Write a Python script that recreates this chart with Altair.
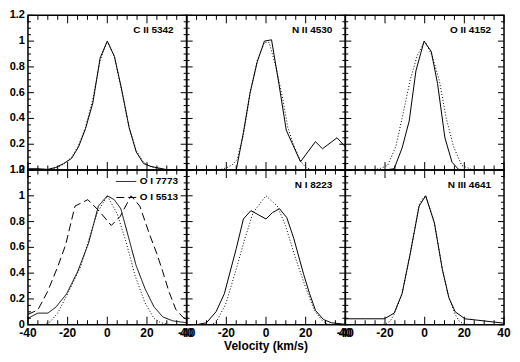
import altair as alt
import pandas as pd

# ---------------- data ----------------
LABELS = ["C II 5342", "N II 4530", "O II 4152", "O I 7773", "N I 8223", "N III 4641"]
OI_SERIES = ["O I 7773", "O I 5513"]
X_TITLE = "Velocity (km/s)"

# C II 5342
CII_V = [-40, -35, -30, -26, -22, -18, -14.5, -11, -7.3, -3.6, 0, 3.6, 7.3, 11, 14.6, 18.3, 22, 26, 30, 35, 40]
CII_F = [0.01, 0.01, 0.005, 0.02, 0.05, 0.09, 0.18, 0.32, 0.52, 0.87, 1.0, 0.88, 0.62, 0.33, 0.14, 0.05, 0.028, 0.015, 0.003, 0.0, 0.0]
CII_DV = [-30, -26, -22, -18, -14.5, -11, -7.3, -3.6, 0, 3.6, 7.3, 11, 14.6, 18.3, 22, 26, 30]
CII_DF = [0.0, 0.015, 0.045, 0.1, 0.19, 0.33, 0.55, 0.85, 1.0, 0.88, 0.61, 0.33, 0.15, 0.06, 0.025, 0.01, 0.0]

# N II 4530
NII_V = [-40, -30, -20, -15, -11.4, -8, -4.4, -0.8, 2.8, 6.5, 10.2, 17.4, 24.9, 28.5, 35.8, 40]
NII_F = [0.0, 0.0, 0.0, 0.0, 0.29, 0.6, 0.84, 1.0, 1.01, 0.67, 0.31, 0.064, 0.22, 0.165, 0.25, 0.18]
NII_DV = [-24, -20, -17, -14.6, -11.4, -8, -4.4, -0.8, 1.6, 5, 8.5, 11, 13.8, 17.4, 20, 23.6]
NII_DF = [0.0, 0.017, 0.04, 0.08, 0.27, 0.6, 0.85, 0.99, 0.99, 0.8, 0.55, 0.33, 0.2, 0.07, 0.02, 0.0]

# O II 4152
OII_V = [-40, -30, -20, -15.4, -11.4, -7.8, -4.4, -0.3, 3.3, 6.5, 10.2, 13.8, 17.1, 25, 40]
OII_F = [0.0, 0.0, 0.0, 0.01, 0.17, 0.38, 0.77, 1.0, 0.92, 0.67, 0.25, 0.06, 0.005, 0.0, 0.0]
OII_DV = [-27, -22.8, -18.7, -14.6, -11.4, -7.3, -3.7, 0, 3.7, 7.3, 10.9, 14.6, 18.7, 23.6, 27]
OII_DF = [0.0, 0.01, 0.035, 0.18, 0.40, 0.70, 0.89, 1.0, 0.89, 0.70, 0.40, 0.18, 0.035, 0.005, 0.0]

# O I 7773 (solid) and O I 5513 (dashed)
OI7_V = [-40, -35, -30, -26, -20.5, -15, -9.5, -4.5, 0, 3.5, 6.8, 10.5, 14.5, 19, 23.5, 28, 33, 40]
OI7_F = [0.05, 0.09, 0.09, 0.135, 0.24, 0.41, 0.63, 0.92, 1.0, 0.97, 0.9, 0.69, 0.46, 0.28, 0.14, 0.06, 0.03, 0.015]
OI5_V = [-40, -35, -30, -25, -21, -16.3, -9.8, -4, 2, 6.5, 12, 16.4, 21.3, 25, 28, 31, 34.5, 38, 40]
OI5_F = [0.08, 0.115, 0.26, 0.45, 0.62, 0.92, 0.97, 0.88, 0.77, 0.84, 1.0, 0.92, 0.70, 0.55, 0.41, 0.26, 0.12, 0.06, 0.04]
OI_DV = [-32, -29, -25, -20, -13.5, -8.5, -5, 0, 5, 9.5, 14, 19, 23.5, 27, 32]
OI_DF = [0.0, 0.02, 0.09, 0.24, 0.45, 0.70, 0.87, 1.0, 0.86, 0.64, 0.38, 0.17, 0.05, 0.015, 0.0]

# N I 8223
NI_V = [-40, -35, -30, -25.2, -21, -15, -11.4, -7.6, 0, 3.3, 6.8, 10.5, 14, 19, 22, 25, 29, 33, 40]
NI_F = [0.0, 0.0, 0.015, 0.10, 0.24, 0.59, 0.82, 0.885, 0.82, 0.87, 0.90, 0.83, 0.67, 0.39, 0.24, 0.11, 0.04, 0.015, 0.003]
NI_DV = [-28, -25.2, -20.3, -15.4, -10.6, -6.5, 0, 5.7, 9.8, 14.6, 19.5, 24.4, 28.5, 31, 34]
NI_DF = [0.0, 0.017, 0.16, 0.41, 0.67, 0.87, 1.0, 0.92, 0.77, 0.53, 0.31, 0.11, 0.03, 0.005, 0.0]

# N III 4641
NIII_V = [-40, -30, -20.3, -15.4, -11.4, -7.3, -2.8, 0.5, 4.9, 8.9, 12.2, 15.4, 20.3, 40]
NIII_F = [0.046, 0.046, 0.046, 0.09, 0.24, 0.55, 0.92, 1.0, 0.79, 0.43, 0.21, 0.10, 0.046, 0.012]
NIII_DV = [-24, -20, -17.5, -15.4, -11.4, -7.3, -2.8, -1, 0.5, 4.9, 8.9, 12.2, 15.4, 17.5, 20, 24]
NIII_DF = [0.0, 0.005, 0.025, 0.08, 0.24, 0.55, 0.93, 0.98, 1.0, 0.79, 0.43, 0.21, 0.08, 0.025, 0.005, 0.0]

X_DOMAIN = [-40, 40]
Y_DOMAIN = [0, 1.2]
X_LABELS = [-40, -20, 0, 20, 40]
X_LABEL_TEXT = ["-40", "-20", "0", "20", "40"]
Y_LABELS = [0, 0.2, 0.4, 0.6, 0.8, 1, 1.2]
Y_LABEL_TEXT = ["0", "0.2", "0.4", "0.6", "0.8", "1", "1.2"]
X_MAJOR = [-40, -20, 0, 20, 40]
X_MINOR = [-35, -30, -25, -15, -10, -5, 5, 10, 15, 25, 30, 35]
Y_MAJOR = [0, 0.2, 0.4, 0.6, 0.8, 1.0, 1.2]
Y_MINOR = [0.05, 0.1, 0.15, 0.25, 0.3, 0.35, 0.45, 0.5, 0.55, 0.65, 0.7, 0.75,
           0.85, 0.9, 0.95, 1.05, 1.1, 1.15]

# ---------------- styling ----------------
W, H = 159, 155
FONT = "Liberation Sans"
XS = alt.Scale(domain=X_DOMAIN, nice=False, zero=False)
YS = alt.Scale(domain=Y_DOMAIN, nice=False, zero=False)
DOT = [1, 2]
DASH = [8, 4]


def tick_layers():
    out = []
    for vals, L in [(X_MAJOR, 8), (X_MINOR, 4.5)]:
        base = alt.Chart(pd.DataFrame({"t": vals})).mark_rule(color="black", strokeWidth=1)
        xe = alt.X("t:Q", scale=XS, axis=None)
        out.append(base.encode(x=xe, y=alt.value(H), y2=alt.value(H - L)))
        out.append(base.encode(x=xe, y=alt.value(0), y2=alt.value(L)))
    for vals, L in [(Y_MAJOR, 6), (Y_MINOR, 3)]:
        base = alt.Chart(pd.DataFrame({"t": vals})).mark_rule(color="black", strokeWidth=1)
        ye = alt.Y("t:Q", scale=YS, axis=None)
        out.append(base.encode(y=ye, x=alt.value(0), x2=alt.value(L)))
        out.append(base.encode(y=ye, x=alt.value(W), x2=alt.value(W - L)))
    return out


def ylabel_layer():
    return alt.Chart(pd.DataFrame({"t": Y_LABELS, "s": Y_LABEL_TEXT})).mark_text(
        align="right", baseline="middle", font=FONT, fontSize=11, fontWeight="bold",
        color="black", dx=-3).encode(
        y=alt.Y("t:Q", scale=YS, axis=None), x=alt.value(0), text="s:N")


def xlabel_layer():
    return alt.Chart(pd.DataFrame({"t": X_LABELS, "s": X_LABEL_TEXT})).mark_text(
        align="center", baseline="top", font=FONT, fontSize=12, fontWeight="bold",
        color="black", dy=3).encode(
        x=alt.X("t:Q", scale=XS, axis=None), y=alt.value(H), text="s:N")


def xtitle_layer():
    return alt.Chart(pd.DataFrame({"s": [X_TITLE]})).mark_text(
        align="center", baseline="top", font=FONT, fontSize=12, fontWeight="bold",
        color="black").encode(x=alt.value(W / 2), y=alt.value(H + 16), text="s:N")


def label_layer(text):
    return alt.Chart(pd.DataFrame({"name": [text]})).mark_text(
        align="right", baseline="middle", font=FONT, fontSize=10, fontWeight="bold",
        color="black").encode(x=alt.value(W - 13), y=alt.value(15), text="name:N")


def panel(sv, sf, dv, df_, label, xshow=False, xtitle=False, yshow=False):
    solid = alt.Chart(pd.DataFrame({"v": sv, "f": sf})).mark_line(
        color="black", strokeWidth=1, clip=True).encode(
        x=alt.X("v:Q", scale=XS, axis=None), y=alt.Y("f:Q", scale=YS, axis=None))
    dotted = alt.Chart(pd.DataFrame({"v": dv, "f": df_})).mark_line(
        color="black", strokeWidth=1, strokeDash=DOT, clip=True).encode(
        x=alt.X("v:Q", scale=XS, axis=None), y=alt.Y("f:Q", scale=YS, axis=None))
    layers = [solid, dotted] + tick_layers() + [label_layer(label)]
    if yshow:
        layers.append(ylabel_layer())
    if xshow:
        layers.append(xlabel_layer())
    if xtitle:
        layers.append(xtitle_layer())
    return alt.layer(*layers).properties(width=W, height=H)


def panel_oi():
    d = pd.concat([
        pd.DataFrame({"v": OI7_V, "f": OI7_F, "series": OI_SERIES[0]}),
        pd.DataFrame({"v": OI5_V, "f": OI5_F, "series": OI_SERIES[1]}),
    ])
    lines = alt.Chart(d).mark_line(color="black", strokeWidth=1, clip=True).encode(
        x=alt.X("v:Q", scale=XS, axis=None),
        y=alt.Y("f:Q", scale=YS, axis=None),
        strokeDash=alt.StrokeDash(
            "series:N",
            scale=alt.Scale(domain=OI_SERIES, range=[[1, 0], DASH]),
            legend=alt.Legend(orient="none", legendX=88, legendY=H + 1, title=None,
                              symbolType="stroke", symbolSize=400, symbolStrokeWidth=1,
                              symbolStrokeColor="black", labelFont=FONT, labelFontSize=10,
                              labelFontWeight="bold", labelColor="black", rowPadding=-2,
                              padding=0, labelOffset=3)),
        detail="series:N")
    dotted = alt.Chart(pd.DataFrame({"v": OI_DV, "f": OI_DF})).mark_line(
        color="black", strokeWidth=1, strokeDash=DOT, clip=True).encode(
        x=alt.X("v:Q", scale=XS, axis=None), y=alt.Y("f:Q", scale=YS, axis=None))
    layers = [lines, dotted] + tick_layers() + [ylabel_layer(), xlabel_layer()]
    return alt.layer(*layers).properties(width=W, height=H)


p1 = panel(CII_V, CII_F, CII_DV, CII_DF, LABELS[0], yshow=True)
p2 = panel(NII_V, NII_F, NII_DV, NII_DF, LABELS[1])
p3 = panel(OII_V, OII_F, OII_DV, OII_DF, LABELS[2])
p4 = panel_oi()
p5 = panel(NI_V, NI_F, NI_DV, NI_DF, LABELS[4], xshow=True, xtitle=True)
p6 = panel(NIII_V, NIII_F, NIII_DV, NIII_DF, LABELS[5], xshow=True)

chart = alt.concat(p1, p2, p3, p4, p5, p6, columns=3, spacing=0, bounds="flush").properties(
    padding=0, background="white"
).configure_view(stroke="black", strokeWidth=1.5)

chart.save("out.html", embed_options={"renderer": "svg", "actions": False})
